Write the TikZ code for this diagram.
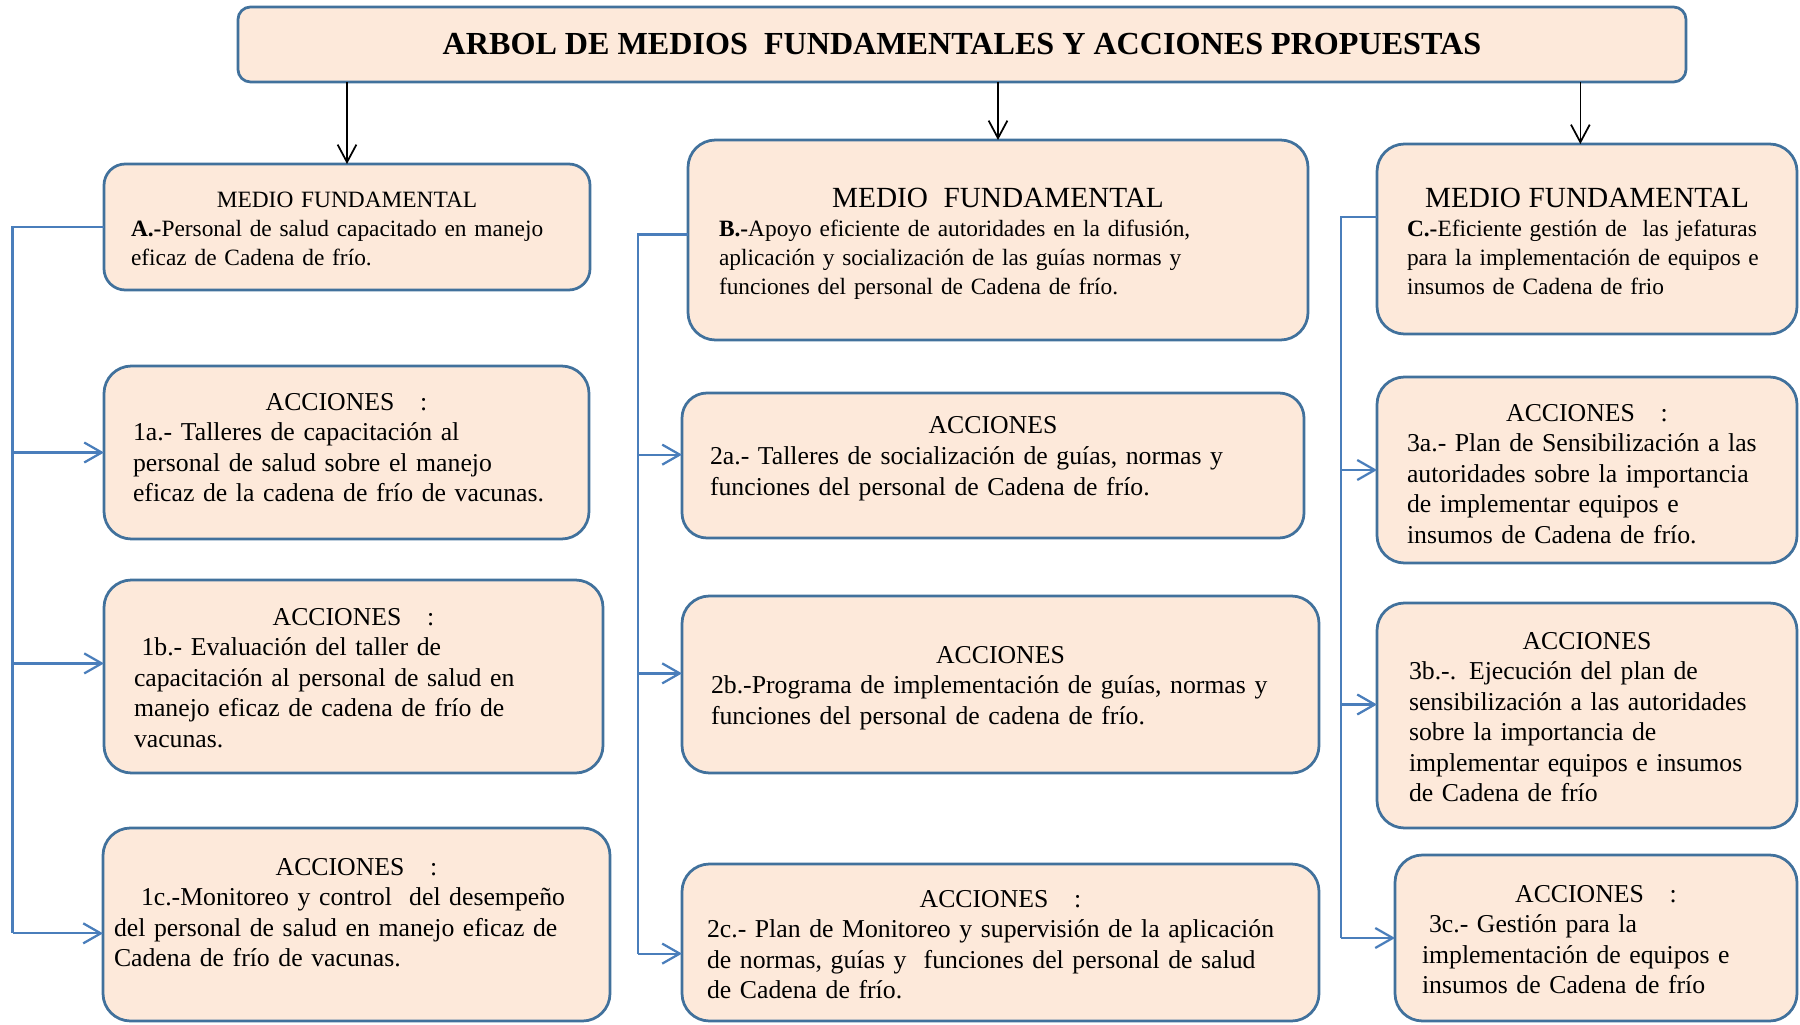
\documentclass[tikz,border=0pt]{standalone}
\usepackage{fontspec}
\setmainfont{Liberation Serif}
\usetikzlibrary{arrows.meta}

\definecolor{durazno}{HTML}{FDE9DA}
\definecolor{borde}{HTML}{41719C}
\definecolor{azulrama}{HTML}{4A7EBB}

\newcommand{\letramedio}{\fontsize{9.35}{11.5}\selectfont\hyphenpenalty=10000}
\newcommand{\letraaccion}{\fontsize{10.3}{12.2}\selectfont\hyphenpenalty=10000}
\newcommand{\letragrande}{\fontsize{11.7}{14}\selectfont}
\newcommand{\encabezado}[1]{{\centering #1\par}}

\tikzset{
  caja/.style={draw=borde, fill=durazno, line width=1.1pt, rounded corners=11pt,
    align=left, anchor=north west, inner ysep=0pt, outer sep=0pt, font=\letraaccion},
  medio/.style={caja, font=\letramedio},
  rama/.style={draw=azulrama, line width=0.9pt},
  flecha/.style={rama, -{Straight Barb[length=7pt,width=8pt]}},
  bajada/.style={draw=black, line width=0.7pt, -{Straight Barb[length=7pt,width=7.5pt]}}
}

\begin{document}
\begin{tikzpicture}[x=0.4pt, y=-0.4pt]
  \useasboundingbox (0,0) rectangle (1800,1025);
  % Title box
  \node[caja, anchor=center, rounded corners=5pt, minimum width=579.2pt, minimum height=30pt,
    inner xsep=0pt, align=center, font=\fontsize{12.85}{15}\selectfont\bfseries] (titulo) at (962,44.5)
    {ARBOL DE MEDIOS\ \ FUNDAMENTALES Y ACCIONES PROPUESTAS};

  % Column 1: medio A and its acciones
  \node[medio, rounded corners=8.5pt, inner xsep=10.8pt, text width=172.8pt, text height=17.6pt, text depth=32.8pt] (A) at (104,164)
    {\encabezado{MEDIO FUNDAMENTAL}\textbf{A.-}Personal de salud capacitado en manejo\\eficaz de Cadena de frío.};
  \node[caja, inner xsep=11.6pt, text width=170.8pt, text height=17.6pt, text depth=51.6pt] (a1) at (104,366)
    {\encabezado{ACCIONES\ \ \ :}1a.- Talleres de capacitación al\\personal de salud sobre el manejo\\eficaz de la cadena de frío de vacunas.};
  \node[caja, inner xsep=12pt, text width=175.6pt, text height=18pt, text depth=59.2pt] (b1) at (104,580)
    {\encabezado{ACCIONES\ \ \ :}\hspace*{3pt}1b.- Evaluación del taller de\\capacitación al personal de salud en\\manejo eficaz de cadena de frío de\\vacunas.};
  \node[caja, inner xsep=4.4pt, text width=194pt, text height=18.8pt, text depth=58.4pt] (c1) at (103,828)
    {\encabezado{ACCIONES\ \ \ :}\hspace*{10.8pt}1c.-Monitoreo y control\ \ del desempeño\\del personal de salud en manejo eficaz de\\Cadena de frío de vacunas.};

  % Column 2: medio B and its acciones
  \node[medio, inner xsep=12.4pt, text width=223.2pt, text height=27.2pt, text depth=52.8pt] (B) at (688,140)
    {\encabezado{\letragrande MEDIO\ \ FUNDAMENTAL}\textbf{B.-}Apoyo eficiente de autoridades en la difusión,\\aplicación y socialización de las guías normas y\\funciones del personal de Cadena de frío.};
  \node[caja, rounded corners=10pt, inner xsep=11.2pt, text width=226.4pt, text height=16.4pt, text depth=41.6pt] (a2) at (682,393)
    {\encabezado{ACCIONES}2a.- Talleres de socialización de guías, normas y\\funciones del personal de Cadena de frío.};
  \node[caja, inner xsep=11.6pt, text width=231.6pt, text height=26.8pt, text depth=44pt] (b2) at (682,596)
    {\encabezado{ACCIONES}2b.-Programa de implementación de guías, normas y\\funciones del personal de cadena de frío.};
  \node[caja, inner xsep=10pt, text width=234.8pt, text height=17.2pt, text depth=45.6pt] (c2) at (682,864)
    {\encabezado{ACCIONES\ \ \ :}2c.- Plan de Monitoreo y supervisión de la aplicación\\de normas, guías y\ \ funciones del personal de salud\\de Cadena de frío.};

  % Column 3: medio C and its acciones
  \node[medio, inner xsep=12pt, text width=144pt, text height=25.6pt, text depth=50.4pt] (C) at (1377,144)
    {\encabezado{\letragrande MEDIO FUNDAMENTAL}\textbf{C.-}Eficiente gestión de\ \ las jefaturas\\para la implementación de equipos e\\insumos de Cadena de frio};
  \node[caja, inner xsep=12pt, text width=144pt, text height=17.6pt, text depth=56.8pt] (a3) at (1377,377)
    {\encabezado{ACCIONES\ \ \ :}3a.- Plan de Sensibilización a las\\autoridades sobre la importancia\\de implementar equipos e\\insumos de Cadena de frío.};
  \node[caja, inner xsep=12.8pt, text width=142.4pt, text height=18.4pt, text depth=71.6pt] (b3) at (1377,603)
    {\encabezado{ACCIONES}3b.-. Ejecución del plan de\\sensibilización a las autoridades\\sobre la importancia de\\implementar equipos e insumos\\de Cadena de frío};
  \node[caja, inner xsep=10.8pt, text width=139.2pt, text height=18.8pt, text depth=47.6pt] (c3) at (1395,855)
    {\encabezado{ACCIONES\ \ \ :}\hspace*{2.8pt}3c.- Gestión para la\\implementación de equipos e\\insumos de Cadena de frío};

  % Arrows from the title
  \draw[bajada] (titulo.south -| A.north) -- (A.north);
  \draw[bajada] (titulo.south -| B.north) -- (B.north);
  \draw[bajada] (titulo.south -| C.94) -- (C.94);

  % Branches of column 1
  \coordinate (ejeA) at (12.5,0);
  \draw[rama] (A.west) -| (ejeA |- c1.182);
  \draw[flecha] (ejeA |- a1.west) -- (a1.west);
  \draw[flecha] (ejeA |- b1.177) -- (b1.177);
  \draw[flecha] (ejeA |- c1.182) -- (c1.182);

  % Branches of column 2
  \coordinate (ejeB) at (638,0);
  \draw[rama] (B.179) -| (ejeB |- c2.182);
  \draw[flecha] (ejeB |- a2.178) -- (a2.178);
  \draw[flecha] (ejeB |- b2.178) -- (b2.178);
  \draw[flecha] (ejeB |- c2.182) -- (c2.182);

  % Branches of column 3
  \coordinate (ejeC) at (1341,0);
  \draw[rama] (C.174) -| (ejeC |- c3.west);
  \draw[flecha] (ejeC |- a3.west) -- (a3.west);
  \draw[flecha] (ejeC |- b3.177) -- (b3.177);
  \draw[flecha] (ejeC |- c3.west) -- (c3.west);
\end{tikzpicture}
\end{document}
